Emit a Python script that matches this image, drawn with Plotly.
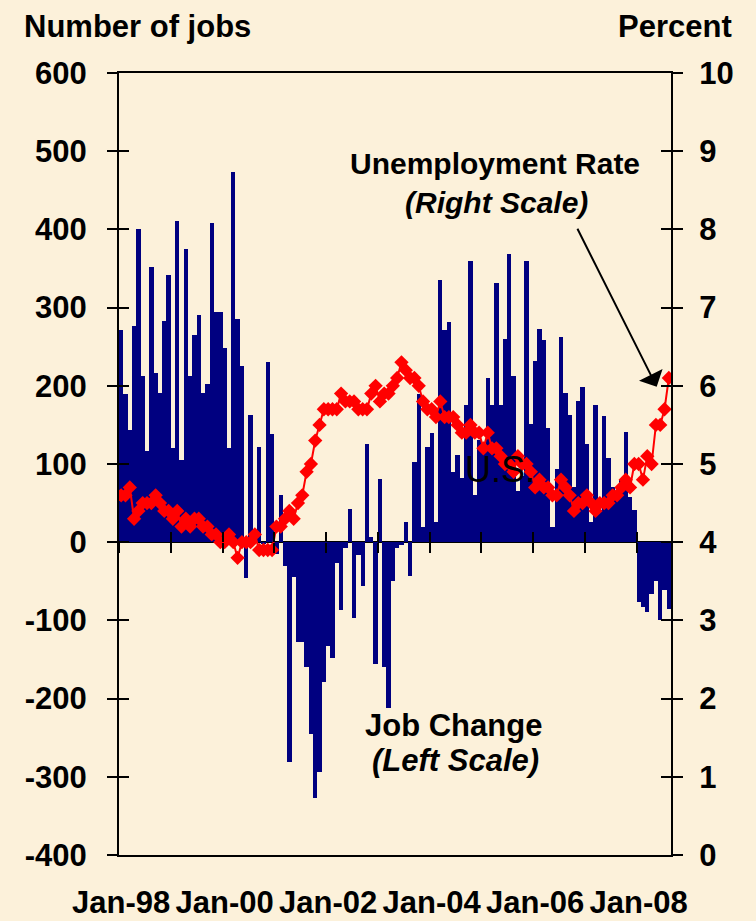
import plotly.graph_objects as go

# ---- data (monthly, Jan-1998 .. Aug-2008) ----
years = list(range(1998, 2009))
month_names = ["Jan", "Feb", "Mar", "Apr", "May", "Jun", "Jul", "Aug", "Sep", "Oct", "Nov", "Dec"]
months = [f"{m}-{str(y)[2:]}" for y in years for m in month_names][:128]

job_change = [
    # 1998
    271, 189, 143, 276, 401, 212, 117, 352, 217, 191, 283, 342,
    # 1999
    120, 411, 105, 375, 212, 265, 291, 191, 202, 408, 294, 294,
    # 2000
    248, 120, 473, 286, 225, -46, 163, 2, 122, -2, 230, 138,
    # 2001
    -15, 61, -31, -281, -45, -128, -128, -160, -245, -327, -294, -179,
    # 2002
    -133, -148, -26, -87, -8, 43, -97, -16, -56, 125, 7, -156,
    # 2003
    81, -159, -212, -49, -8, -3, 26, -43, 102, 190, 19, 122,
    # 2004
    140, 26, 335, 271, 281, 90, 112, 82, 176, 360, 61, 131,
    # 2005
    115, 210, 176, 332, 176, 260, 368, 212, 65, 85, 360, 151,
    # 2006
    232, 273, 258, 146, 20, 94, 263, 191, 163, 71, 181, 199,
    # 2007
    125, 26, 176, 41, 161, 108, 70, 60, 80, 141, 58, 41,
    # 2008
    -77, -83, -89, -66, -49, -99, -61, -85,
]

unemployment_rate = [
    # 1998
    4.6, 4.6, 4.7, 4.3, 4.4, 4.5, 4.5, 4.5, 4.6, 4.5, 4.4, 4.4,
    # 1999
    4.3, 4.4, 4.2, 4.3, 4.2, 4.3, 4.3, 4.2, 4.2, 4.1, 4.1, 4.0,
    # 2000
    4.0, 4.1, 4.0, 3.8, 4.0, 4.0, 4.0, 4.1, 3.9, 3.9, 3.9, 3.9,
    # 2001
    4.2, 4.2, 4.3, 4.4, 4.3, 4.5, 4.6, 4.9, 5.0, 5.3, 5.5, 5.7,
    # 2002
    5.7, 5.7, 5.7, 5.9, 5.8, 5.8, 5.8, 5.7, 5.7, 5.7, 5.9, 6.0,
    # 2003
    5.8, 5.9, 5.9, 6.0, 6.1, 6.3, 6.2, 6.1, 6.1, 6.0, 5.8, 5.7,
    # 2004
    5.7, 5.6, 5.8, 5.6, 5.6, 5.6, 5.5, 5.4, 5.4, 5.5, 5.4, 5.4,
    # 2005
    5.2, 5.4, 5.2, 5.2, 5.1, 5.0, 5.0, 4.9, 5.1, 5.0, 5.0, 4.9,
    # 2006
    4.7, 4.8, 4.7, 4.7, 4.6, 4.6, 4.8, 4.7, 4.6, 4.4, 4.5, 4.5,
    # 2007
    4.6, 4.5, 4.4, 4.5, 4.5, 4.5, 4.6, 4.6, 4.7, 4.8, 4.7, 5.0,
    # 2008
    5.0, 4.8, 5.1, 5.0, 5.5, 5.5, 5.7, 6.1,
]

x_tick_labels = ["Jan-98", "Jan-00", "Jan-02", "Jan-04", "Jan-06", "Jan-08"]
left_ticks = [-400, -300, -200, -100, 0, 100, 200, 300, 400, 500, 600]
left_tick_labels = ["-400", "-300", "-200", "-100", "0", "100", "200", "300", "400", "500", "600"]
right_ticks = [0, 1, 2, 3, 4, 5, 6, 7, 8, 9, 10]

# ---- layout helpers ----
W, H = 756, 921
L, R, T, B = 119, 85, 73, 66
PW, PH = W - L - R, H - T - B


def px_x(px):
    return (px - L) / PW


def px_y(py):
    return (H - B - py) / PH


FONT = "Liberation Sans, Arial, Helvetica, sans-serif"
idx = list(range(len(months)))
label_idx = [months.index(t) for t in x_tick_labels]
year_bounds = [months.index(f"Jan-{str(y)[2:]}") - 0.5 for y in years if f"Jan-{str(y)[2:]}" in months]
xr = [-0.5, len(months) - 0.5]

fig = go.Figure()
fig.add_trace(go.Bar(
    x=idx, y=job_change, marker=dict(color="#000080", line=dict(width=0)),
    name="Job Change", hovertext=months, xaxis="x", yaxis="y",
))
fig.add_trace(go.Scatter(
    x=idx, y=unemployment_rate, mode="lines+markers",
    line=dict(color="#FF0000", width=2),
    marker=dict(symbol="diamond", size=11, color="#FF0000"),
    name="Unemployment Rate", hovertext=months, xaxis="x", yaxis="y2",
))
# dummy traces so the helper tick axes are drawn
for xa, ya in [("x2", "y"), ("x3", "y"), ("x", "y3"), ("x", "y4")]:
    fig.add_trace(go.Scatter(x=[None], y=[None], xaxis=xa, yaxis=ya,
                             showlegend=False, hoverinfo="skip"))

tickfont = dict(family=FONT, size=31, color="black", weight="bold")
xtickfont = dict(family=FONT, size=31, color="black", weight="bold")

fig.update_layout(
    width=W, height=H,
    margin=dict(l=L, r=R, t=T, b=B, pad=0, autoexpand=False),
    paper_bgcolor="#FCF1DA", plot_bgcolor="rgba(0,0,0,0)",
    showlegend=False, bargap=0,
    font=dict(family=FONT, color="black"),
    xaxis=dict(
        range=xr, tickmode="array", tickvals=label_idx, ticktext=x_tick_labels,
        ticks="", showgrid=False, zeroline=False, automargin=False,
        showline=True, linecolor="black", linewidth=2, mirror=True,
        tickfont=xtickfont, ticklabelstandoff=19,
    ),
    xaxis2=dict(
        range=xr, overlaying="x", anchor="free", position=0.4, automargin=False,
        tickmode="array", tickvals=year_bounds, ticks="outside", ticklen=10,
        tickwidth=2, tickcolor="black", showticklabels=False,
        showgrid=False, zeroline=False, showline=False,
    ),
    xaxis3=dict(
        range=xr, overlaying="x", anchor="free", position=0.4, automargin=False,
        tickmode="array", tickvals=year_bounds, ticks="inside", ticklen=10,
        tickwidth=2, tickcolor="black", showticklabels=False,
        showgrid=False, zeroline=False, showline=False,
    ),
    yaxis=dict(
        range=[-400, 600], tickmode="array", tickvals=left_ticks, ticktext=left_tick_labels,
        ticks="outside", ticklen=10, automargin=False,
        tickwidth=2, tickcolor="black", showline=True, linecolor="black",
        linewidth=2, showgrid=False, zeroline=True, zerolinecolor="black",
        zerolinewidth=2, tickfont=tickfont, ticklabelstandoff=14,
    ),
    yaxis3=dict(
        range=[-400, 600], tickmode="array", tickvals=left_ticks, overlaying="y", side="left",
        anchor="x", ticks="inside", ticklen=10, tickwidth=2, tickcolor="black", automargin=False,
        showticklabels=False, showgrid=False, zeroline=False, showline=False,
    ),
    yaxis2=dict(
        range=[0, 10], tickmode="array", tickvals=right_ticks, overlaying="y", side="right", anchor="x",
        ticks="outside", ticklen=10, tickwidth=2, tickcolor="black", automargin=False,
        showline=True, linecolor="black", linewidth=2, showgrid=False,
        zeroline=False, tickfont=tickfont, ticklabelstandoff=10,
    ),
    yaxis4=dict(
        range=[0, 10], tickmode="array", tickvals=right_ticks, overlaying="y", side="right", anchor="x",
        ticks="inside", ticklen=10, tickwidth=2, tickcolor="black", automargin=False,
        showticklabels=False, showgrid=False, zeroline=False, showline=False,
    ),
)

bold31 = dict(family=FONT, size=31, color="black", weight="bold")
ann = [
    dict(text="Number of jobs", x=px_x(22), y=px_y(26), xanchor="left", yanchor="middle", font=bold31),
    dict(text="Percent", x=px_x(734), y=px_y(26), xanchor="right", yanchor="middle", font=bold31),
    dict(text="Unemployment Rate", x=px_x(495), y=px_y(163), xanchor="center", yanchor="middle",
         font=dict(family=FONT, size=30, color="black", weight="bold")),
    dict(text="<i>(Right Scale)</i>", x=px_x(496), y=px_y(202), xanchor="center", yanchor="middle",
         font=dict(family=FONT, size=30, color="black", weight="bold")),
    dict(text="Job Change", x=px_x(453), y=px_y(725), xanchor="center", yanchor="middle", font=bold31),
    dict(text="<i>(Left Scale)</i>", x=px_x(455), y=px_y(760), xanchor="center", yanchor="middle", font=bold31),
    dict(text="U.S.", x=px_x(500), y=px_y(469), xanchor="center", yanchor="middle",
         font=dict(family=FONT, size=36, color="black")),
]
annotations = []
for a in ann:
    a.update(xref="paper", yref="paper", showarrow=False)
    annotations.append(a)

# arrow from the label to the latest unemployment point
annotations.append(dict(
    xref="paper", yref="paper", x=px_x(656.7), y=px_y(386.7), text="",
    showarrow=True, ax=576.7 - 656.7, ay=227.3 - 386.7,
    arrowhead=1, arrowsize=2.2, arrowwidth=2, arrowcolor="black", standoff=0,
))
fig.update_layout(annotations=annotations)

fig.write_html(
    "out.html",
    config={"displayModeBar": False},
    post_script="document.body.style.margin='0';document.body.style.padding='0';"
                "document.body.style.overflow='hidden';",
)
